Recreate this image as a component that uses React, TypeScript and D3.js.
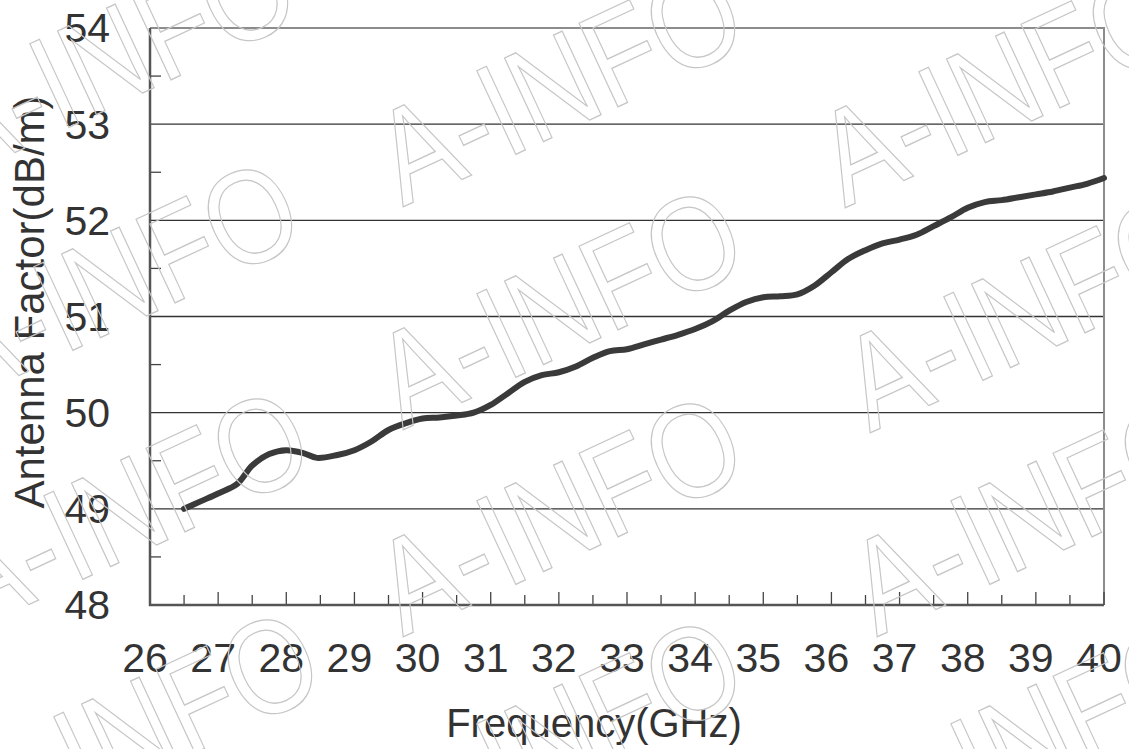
import React, { useEffect, useRef } from "react";
import * as d3 from "d3";

// antenna factor curve (GHz -> dB/m)
const freqs = [
  26.5, 26.75, 27, 27.28, 27.5, 27.75, 28, 28.25, 28.45, 28.75, 29, 29.25, 29.5, 29.75,
  30, 30.25, 30.5, 30.75, 31, 31.25, 31.5, 31.75, 32, 32.25, 32.5, 32.75, 33, 33.25,
  33.5, 33.75, 34, 34.25, 34.5, 34.75, 35, 35.25, 35.5, 35.75, 36, 36.25, 36.5, 36.75,
  37, 37.25, 37.5, 37.75, 38, 38.25, 38.5, 38.75, 39, 39.25, 39.5, 39.75, 40,
];
const factors = [
  49.0, 49.08, 49.16, 49.26, 49.45, 49.57, 49.61, 49.58, 49.53, 49.56, 49.61, 49.7, 49.82, 49.89,
  49.94, 49.95, 49.97, 50.0, 50.08, 50.2, 50.32, 50.39, 50.42, 50.48, 50.57, 50.64, 50.66, 50.71,
  50.76, 50.81, 50.87, 50.95, 51.06, 51.15, 51.2, 51.21, 51.23, 51.32, 51.46, 51.6, 51.69, 51.76,
  51.8, 51.85, 51.94, 52.03, 52.13, 52.19, 52.21, 52.24, 52.27, 52.3, 52.34, 52.38, 52.44,
];

const xTicks = d3.range(26, 41, 1);
const xMinor = d3.range(26.5, 40.01, 0.5);
const yTicks = [48, 49, 50, 51, 52, 53, 54];
const yMinor = [48.5, 49.5, 50.5, 51.5, 52.5, 53.5];
const gridValues = [49, 50, 51, 52, 53];

// watermark anchors (left foot of the "A")
const marks = [
  [-44, 180], [-40, 403], [-30, 632], [-20, 853],
  [403, 207], [403, 430], [403, 637], [403, 860],
  [845, 208], [870, 433], [877, 637], [877, 860],
];

export default function App() {
  const ref = useRef<SVGSVGElement>(null);

  useEffect(() => {
    const svg = d3.select(ref.current);
    svg.selectAll("*").remove();

    const font = "'Liberation Sans', Arial, sans-serif";
    const x = d3.scaleLinear().domain([26, 40]).range([150, 1104]);
    const y = d3.scaleLinear().domain([48, 54]).range([605, 28]);

    // grid
    svg.append("g")
      .selectAll("line")
      .data(gridValues)
      .join("line")
      .attr("x1", x(26))
      .attr("x2", x(40))
      .attr("y1", d => y(d))
      .attr("y2", d => y(d))
      .attr("stroke", "#333")
      .attr("stroke-width", 1.3);

    // top + right border
    svg.append("path")
      .attr("d", `M${x(26)},${y(54)}H${x(40)}V${y(48)}`)
      .attr("fill", "none")
      .attr("stroke", "#8c8c8c")
      .attr("stroke-width", 2);

    // y minor ticks (inside)
    svg.append("g")
      .selectAll("line")
      .data(yMinor)
      .join("line")
      .attr("x1", x(26))
      .attr("x2", x(26) + 11)
      .attr("y1", d => y(d))
      .attr("y2", d => y(d))
      .attr("stroke", "#444")
      .attr("stroke-width", 1.3);

    // x ticks (inside), integers a bit longer
    svg.append("g")
      .selectAll("line")
      .data(xMinor)
      .join("line")
      .attr("x1", d => x(d))
      .attr("x2", d => x(d))
      .attr("y1", y(48))
      .attr("y2", d => y(48) - (Number.isInteger(d) ? 13 : 10))
      .attr("stroke", "#444")
      .attr("stroke-width", 1.3);

    // left + bottom axis
    svg.append("path")
      .attr("d", `M${x(26)},${y(54)}V${y(48)}H${x(40)}`)
      .attr("fill", "none")
      .attr("stroke", "#555")
      .attr("stroke-width", 2.5);

    // tick labels
    svg.append("g")
      .selectAll("text")
      .data(yTicks)
      .join("text")
      .attr("x", 110)
      .attr("y", d => y(d))
      .attr("dy", "0.35em")
      .attr("text-anchor", "end")
      .attr("font-family", font)
      .attr("font-size", 41)
      .attr("fill", "#333")
      .text(d => d);

    svg.append("g")
      .selectAll("text")
      .data(xTicks)
      .join("text")
      .attr("x", d => x(d) - 5)
      .attr("y", 672)
      .attr("text-anchor", "middle")
      .attr("font-family", font)
      .attr("font-size", 41)
      .attr("fill", "#333")
      .text(d => d);

    // axis titles
    svg.append("text")
      .attr("transform", `translate(44,302) rotate(-90)`)
      .attr("text-anchor", "middle")
      .attr("font-family", font)
      .attr("font-size", 42)
      .attr("fill", "#333")
      .text("Antenna Factor(dB/m)");

    svg.append("text")
      .attr("x", 594)
      .attr("y", 737)
      .attr("text-anchor", "middle")
      .attr("font-family", font)
      .attr("font-size", 40)
      .attr("fill", "#333")
      .text("Frequency(GHz)");

    // curve
    const pts = freqs.map((f, i) => [f, factors[i]] as [number, number]);
    const line = d3.line<[number, number]>()
      .x(d => x(d[0]))
      .y(d => y(d[1]))
      .curve(d3.curveCatmullRom.alpha(0.5));

    svg.append("path")
      .datum(pts)
      .attr("d", line)
      .attr("fill", "none")
      .attr("stroke", "#3a3a3a")
      .attr("stroke-width", 6)
      .attr("stroke-linecap", "round")
      .attr("stroke-linejoin", "round");

    // watermark
    svg.append("g")
      .selectAll("text")
      .data(marks)
      .join("text")
      .attr("transform", d => `translate(${d[0]},${d[1]}) rotate(-25) scale(0.85,1)`)
      .attr("font-family", font)
      .attr("font-size", 134)
      .attr("fill", "none")
      .attr("stroke", "#c6c6c6")
      .attr("stroke-width", 1.3)
      .text("A-INFO");
  }, []);

  return (
    <svg
      ref={ref}
      width={1129}
      height={749}
      style={{ position: "absolute", left: 0, top: 0, background: "#fff" }}
    />
  );
}
